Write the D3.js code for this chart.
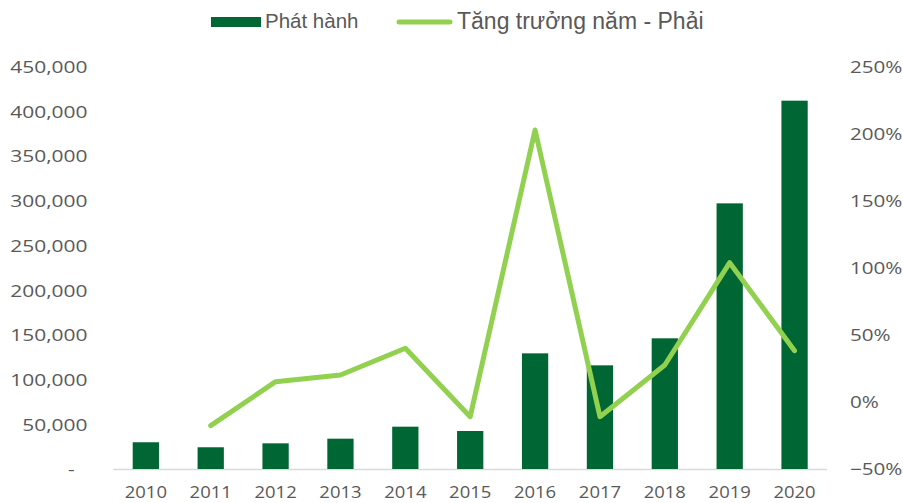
<!DOCTYPE html>
<html>
<head>
<meta charset="utf-8">
<script src="https://cdn.jsdelivr.net/npm/d3@7"></script>
<style>
  body { margin: 0; background: #fff; }
  svg { display: block; }
</style>
</head>
<body>
<script>
var years = ["2010", "2011", "2012", "2013", "2014", "2015", "2016", "2017", "2018", "2019", "2020"];
var phatHanh = [29900, 24300, 28700, 33900, 47300, 42500, 129300, 115900, 146100, 297000, 411800];
var tangTruong = [null, -0.177, 0.151, 0.201, 0.40, -0.11, 2.027, -0.11, 0.275, 1.038, 0.382];
var leftTicks = [0, 50000, 100000, 150000, 200000, 250000, 300000, 350000, 400000, 450000];
var rightTicks = [-0.5, 0, 0.5, 1, 1.5, 2, 2.5];
var legendNames = ["Phát hành", "Tăng trưởng năm - Phải"];

var width = 903, height = 503;
var plot = { left: 113.4, right: 827, top: 66.5, bottom: 469 };
var barColor = "#006633", lineColor = "#92D050", textColor = "#595959";

var svg = d3.select("body").append("svg")
    .attr("width", width)
    .attr("height", height);

var x = d3.scaleBand().domain(years).range([plot.left, plot.right]).paddingInner(0.595).paddingOuter(0.2975);
var yL = d3.scaleLinear().domain([0, 450000]).range([plot.bottom, plot.top]);
var yR = d3.scaleLinear().domain([-0.5, 2.5]).range([plot.bottom, plot.top]);

// left axis
var fmt = d3.format(",");
var axL = svg.append("g")
    .attr("transform", "translate(87.5,0)")
    .call(d3.axisLeft(yL).tickValues(leftTicks).tickSize(0).tickPadding(0)
        .tickFormat(function (d) { return d === 0 ? "-" : fmt(d); }));

// right axis
var axR = svg.append("g")
    .attr("transform", "translate(" + (plot.right + 23) + ",0)")
    .call(d3.axisRight(yR).tickValues(rightTicks).tickSize(0).tickPadding(0)
        .tickFormat(d3.format(".0%")));

// bottom axis
var axB = svg.append("g")
    .attr("transform", "translate(0," + plot.bottom + ")")
    .call(d3.axisBottom(x).tickSize(0).tickPadding(0));

[axL, axR, axB].forEach(function (ax) {
    ax.select(".domain").remove();
    ax.selectAll("text")
        .attr("fill", textColor)
        .style("font-family", "'Open Sans', sans-serif")
        .style("font-size", "16.5px");
});
axL.selectAll("text").attr("x", 0).attr("dy", "0.36em").attr("transform", "scale(1.27,1)");
axL.selectAll(".tick").filter(function (d) { return d === 0; }).select("text").attr("x", -10);
axR.selectAll("text").attr("x", 0).attr("dy", "0.36em").attr("transform", "scale(1.25,1)");
axB.selectAll("text").attr("y", 29).attr("dy", 0).attr("transform", "scale(1.12,1)");

// baseline
svg.append("line")
    .attr("x1", plot.left).attr("x2", plot.right)
    .attr("y1", yL(0) + 0.5).attr("y2", yL(0) + 0.5)
    .attr("stroke", "#d9d9d9").attr("stroke-width", 1.5);

// bars
svg.append("g").selectAll("rect")
    .data(phatHanh)
    .join("rect")
    .attr("x", function (d, i) { return x(years[i]); })
    .attr("width", x.bandwidth())
    .attr("y", function (d) { return yL(d); })
    .attr("height", function (d) { return yL(0) - yL(d); })
    .attr("fill", barColor);

// growth line
var line = d3.line()
    .defined(function (d) { return d !== null; })
    .x(function (d, i) { return x(years[i]) + x.bandwidth() / 2; })
    .y(function (d) { return yR(d); });

svg.append("path")
    .datum(tangTruong)
    .attr("d", line)
    .attr("fill", "none")
    .attr("stroke", lineColor)
    .attr("stroke-width", 5)
    .attr("stroke-linejoin", "round")
    .attr("stroke-linecap", "round");

// legend
var lg = svg.append("g");
lg.append("rect").attr("x", 211).attr("y", 17).attr("width", 50).attr("height", 10).attr("fill", barColor);
lg.append("text").attr("x", 265).attr("y", 28)
    .attr("fill", textColor)
    .style("font-family", "'Liberation Sans', Arial, sans-serif")
    .style("font-size", "20.5px")
    .text(legendNames[0]);
lg.append("line").attr("x1", 399).attr("x2", 450).attr("y1", 22).attr("y2", 22)
    .attr("stroke", lineColor).attr("stroke-width", 5).attr("stroke-linecap", "round");
lg.append("text").attr("x", 457).attr("y", 29)
    .attr("fill", textColor)
    .style("font-family", "'Liberation Sans', Arial, sans-serif")
    .style("font-size", "23px")
    .text(legendNames[1]);
</script>
</body>
</html>
